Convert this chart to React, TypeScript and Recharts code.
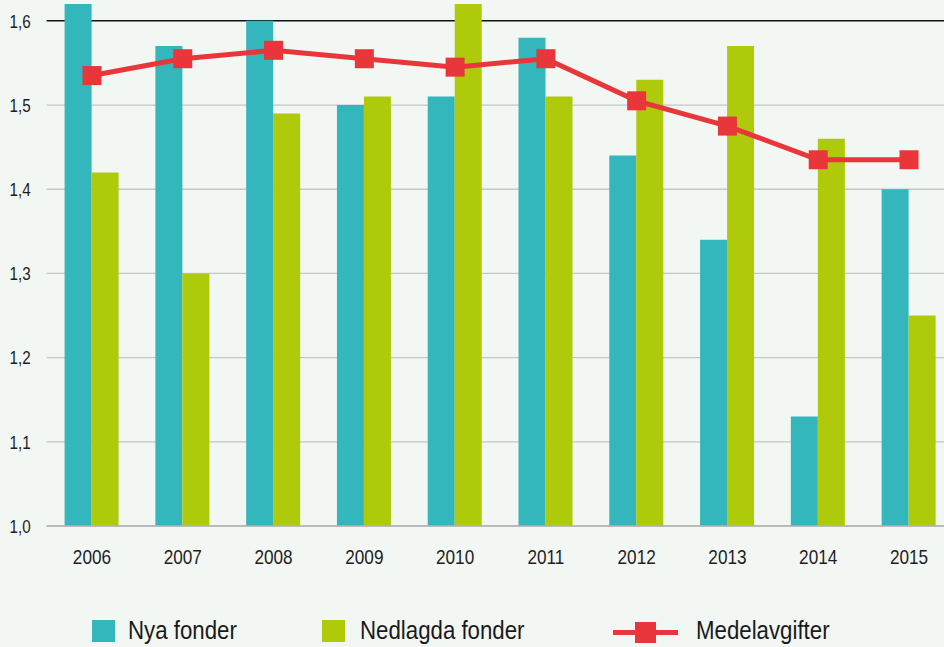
import React from 'react';
import { ComposedChart, Bar, Line, XAxis, YAxis, CartesianGrid } from 'recharts';

// values
const years = ['2006', '2007', '2008', '2009', '2010', '2011', '2012', '2013', '2014', '2015'];
const nyaFonder = [1.62, 1.57, 1.6, 1.5, 1.51, 1.58, 1.44, 1.34, 1.13, 1.4];
const nedlagdaFonder = [1.42, 1.3, 1.49, 1.51, 1.62, 1.51, 1.53, 1.57, 1.46, 1.25];
const medelavgifter = [1.535, 1.555, 1.565, 1.555, 1.545, 1.555, 1.505, 1.475, 1.435, 1.435];
const yTicks = [1.0, 1.1, 1.2, 1.3, 1.4, 1.5, 1.6];

const data = years.map((year, i) => ({
  year,
  nya: nyaFonder[i],
  nedlagda: nedlagdaFonder[i],
  medel: medelavgifter[i],
}));

const TEAL = '#33b7bc';
const LIME = '#afca0b';
const RED = '#e8363a';
const BG = '#f2f7f4';
const FONT = '"Liberation Sans", Arial, sans-serif';

const SquareDot = (props: any) => {
  const { cx, cy } = props;
  if (cx == null || cy == null) return null;
  return <rect x={cx - 9.5} y={cy - 9.5} width={19} height={19} fill={RED} />;
};

const GridLine = (props: any) => {
  const { x1, x2, y1, y2, index } = props;
  if (y1 < 12) return <g key={`g-${index}`} />;
  // the 1,6 line is black in the original
  const top = y1 < 30;
  return (
    <line
      key={`g-${index}`}
      x1={x1}
      x2={x2}
      y1={y1}
      y2={y2}
      stroke={top ? '#111' : '#c6c6c6'}
      strokeWidth={top ? 1.5 : 1.3}
    />
  );
};

// condensed look: plain sans squeezed horizontally
const XTick = (props: any) => {
  const { x, y, payload } = props;
  return (
    <text
      transform={`translate(${x},${y}) scale(0.86,1)`}
      textAnchor="middle"
      dy="0.71em"
      fontSize={20}
      fontFamily={FONT}
      fill="#1e1e1e"
    >
      {payload.value}
    </text>
  );
};

const YTick = (props: any) => {
  const { x, y, payload } = props;
  return (
    <text
      transform={`translate(${x},${y}) scale(0.8,1)`}
      textAnchor="end"
      dy="0.355em"
      fontSize={19}
      fontFamily={FONT}
      fill="#1e1e1e"
    >
      {Number(payload.value).toFixed(1).replace('.', ',')}
    </text>
  );
};

const labelStyle: React.CSSProperties = {
  position: 'absolute',
  top: -2,
  lineHeight: '30px',
  transform: 'scaleX(0.89)',
  transformOrigin: 'left center',
  whiteSpace: 'nowrap',
};

const LegendRow = () => (
  <div
    style={{
      position: 'absolute',
      top: 617,
      left: 0,
      width: 944,
      height: 28,
      fontFamily: FONT,
      fontSize: 25,
      color: '#1a1a1a',
    }}
  >
    <div style={{ position: 'absolute', left: 92, top: 3, width: 23, height: 22, background: TEAL }} />
    <span style={{ ...labelStyle, left: 128 }}>Nya fonder</span>
    <div style={{ position: 'absolute', left: 322, top: 3, width: 23, height: 22, background: LIME }} />
    <span style={{ ...labelStyle, left: 360 }}>Nedlagda fonder</span>
    <div style={{ position: 'absolute', left: 613, top: 13, width: 65, height: 5, background: RED }} />
    <div style={{ position: 'absolute', left: 635, top: 5, width: 21, height: 21, background: RED }} />
    <span style={{ ...labelStyle, left: 696 }}>Medelavgifter</span>
  </div>
);

export default function App() {
  return (
    <div
      style={{
        position: 'absolute',
        top: 0,
        left: 0,
        width: 944,
        height: 647,
        overflow: 'hidden',
        background: BG,
      }}
    >
      <ComposedChart
        width={960}
        height={647}
        data={data}
        margin={{ top: 4, right: 5.6, bottom: 81, left: 0 }}
        barCategoryGap={18}
        barGap={0}
      >
        <CartesianGrid vertical={false} horizontal={GridLine} />
        <XAxis
          dataKey="year"
          axisLine={{ stroke: '#b3b3b3', strokeWidth: 1.5 }}
          tickLine={false}
          tickSize={6}
          tickMargin={18}
          height={40}
          tick={<XTick />}
        />
        <YAxis
          domain={[1.0, 1.62]}
          ticks={yTicks}
          allowDataOverflow
          axisLine={false}
          tickLine={false}
          tickSize={6}
          tickMargin={10}
          width={46.6}
          tick={<YTick />}
        />
        <Bar dataKey="nya" name="Nya fonder" fill={TEAL} isAnimationActive={false} />
        <Bar dataKey="nedlagda" name="Nedlagda fonder" fill={LIME} isAnimationActive={false} />
        <Line
          dataKey="medel"
          name="Medelavgifter"
          type="linear"
          stroke={RED}
          strokeWidth={5}
          dot={<SquareDot />}
          activeDot={false}
          isAnimationActive={false}
        />
      </ComposedChart>
      <LegendRow />
    </div>
  );
}
